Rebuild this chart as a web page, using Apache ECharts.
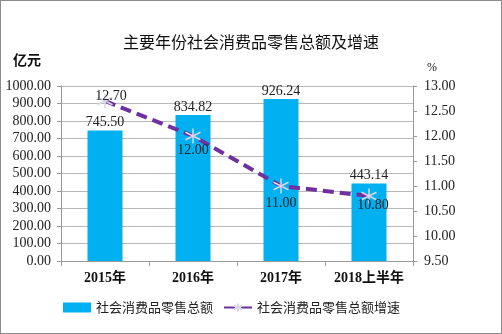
<!DOCTYPE html>
<html>
<head>
<meta charset="utf-8">
<script src="https://cdn.jsdelivr.net/npm/echarts@6/dist/echarts.min.js"></script>
<style>
  html, body { margin: 0; padding: 0; background: #fff; }
  #chart { width: 502px; height: 334px; box-sizing: border-box; border: 1px solid #8c8c8c; }
</style>
</head>
<body>
<div id="chart"></div>
<script>
const categories = ['2015年', '2016年', '2017年', '2018上半年'];
const retailTotal = [745.50, 834.82, 926.24, 443.14];
const retailGrowth = [12.70, 12.00, 11.00, 10.80];
const leftTicks = { min: 0, max: 1000, step: 100 };
const rightTicks = { min: 9.5, max: 13, step: 0.5 };

const serif = '"Liberation Serif", "DejaVu Serif", "Noto Sans CJK SC", serif';
const asterisk = 'path://M0,-10L0,10M-8.66,-5L8.66,5M-8.66,5L8.66,-5';

// label nudges for the growth-rate points, relative to each marker centre
const growthLabelOffsets = [[6, -5], [0, 14], [0, 17], [4, 9]];

const chart = echarts.init(document.getElementById('chart'), null, { renderer: 'canvas' });
chart.setOption({
  animation: false,
  textStyle: { fontFamily: serif },
  title: {
    text: '主要年份社会消费品零售总额及增速',
    left: 'center', top: 30,
    textStyle: { fontFamily: serif, fontSize: 16, fontWeight: 'normal', color: '#111' }
  },
  legend: {
    bottom: 14, left: 57, itemGap: 10,
    textStyle: { fontSize: 13, color: '#222', fontFamily: '"Noto Sans CJK SC", sans-serif' },
    data: [
      { name: '社会消费品零售总额', icon: 'rect', itemWidth: 26, itemHeight: 8 },
      { name: '社会消费品零售总额增速' }
    ],
    itemWidth: 28, itemHeight: 10
  },
  grid: { left: 60, right: 88, top: 85, bottom: 72 },
  xAxis: {
    type: 'category', data: categories,
    axisLine: { lineStyle: { color: '#999' } },
    axisTick: { show: true, length: 5, lineStyle: { color: '#999' } },
    axisLabel: { interval: 0, fontFamily: serif, fontSize: 14, fontWeight: 'bold', color: '#111', margin: 10 }
  },
  yAxis: [
    {
      type: 'value', min: leftTicks.min, max: leftTicks.max, interval: leftTicks.step,
      name: '亿元', nameLocation: 'end', nameGap: 18,
      nameTextStyle: { fontFamily: serif, fontSize: 14, fontWeight: 'bold', color: '#111', align: 'right', padding: [0, 20, 0, 0] },
      axisLine: { show: true, lineStyle: { color: '#999' } },
      axisTick: { show: true, length: 4, lineStyle: { color: '#999' } },
      axisLabel: { fontFamily: serif, fontSize: 14, color: '#222', formatter: v => v.toFixed(2), margin: 10 },
      splitLine: { lineStyle: { color: '#b8b8b8' } }
    },
    {
      type: 'value', min: rightTicks.min, max: rightTicks.max, interval: rightTicks.step,
      name: '%', nameLocation: 'end', nameGap: 12,
      nameTextStyle: { fontFamily: serif, fontSize: 12, color: '#111', align: 'left', padding: [0, 0, 0, 14] },
      axisLine: { show: true, lineStyle: { color: '#999' } },
      axisTick: { show: true, length: 4, lineStyle: { color: '#999' } },
      axisLabel: { fontFamily: serif, fontSize: 14, color: '#222', formatter: v => v.toFixed(2), margin: 11 },
      splitLine: { show: false }
    }
  ],
  series: [
    {
      name: '社会消费品零售总额', type: 'bar', data: retailTotal, barWidth: 35, yAxisIndex: 0,
      itemStyle: { color: '#00b0f0' },
      label: { show: true, position: 'top', distance: 1, fontFamily: serif, fontSize: 14, color: '#222', formatter: p => p.value.toFixed(2) }
    },
    {
      name: '社会消费品零售总额增速', type: 'line', yAxisIndex: 1,
      symbol: asterisk, symbolSize: 15,
      lineStyle: { color: '#7030a0', width: 4, type: [11, 6] },
      itemStyle: { color: '#7030a0', borderColor: '#d8d8e8', borderWidth: 1.5 },
      label: {
        show: true, position: 'inside', fontFamily: serif, fontSize: 14, color: '#222',
        formatter: p => p.value.toFixed(2)
      },
      data: retailGrowth.map((v, i) => ({ value: v, label: { offset: growthLabelOffsets[i] } }))
    }
  ]
});
</script>
</body>
</html>
